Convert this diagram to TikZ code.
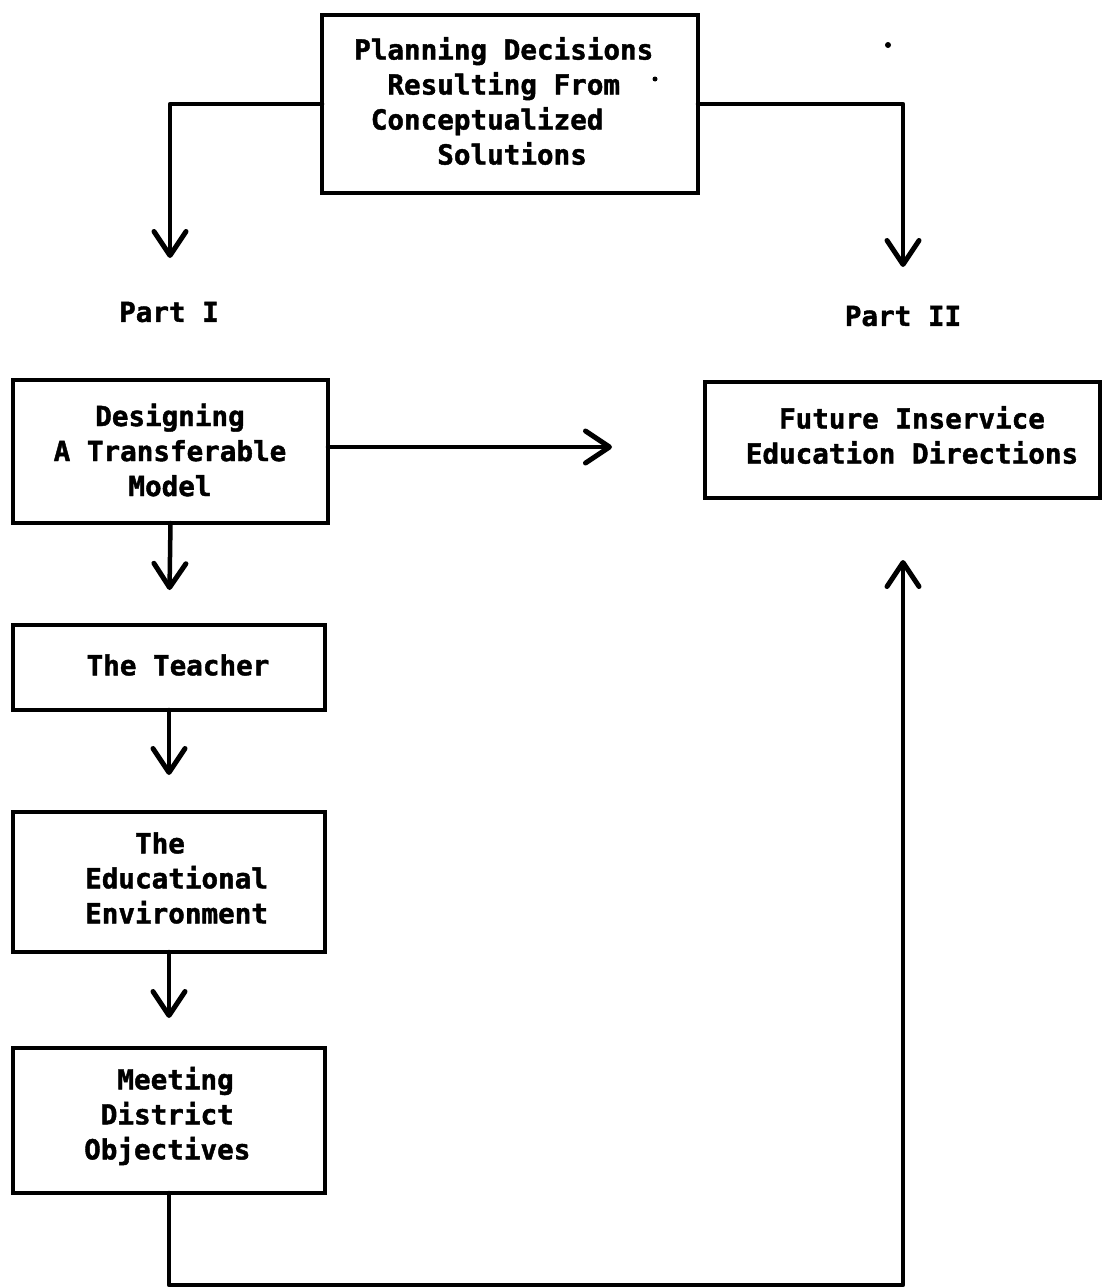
\documentclass[tikz,border=0pt]{standalone}
\usepackage{fontspec}
\newfontfamily\tw[BoldFeatures={FakeBold=1.5}]{DejaVu Sans Mono}
\usetikzlibrary{arrows.meta}
\begin{document}
\begin{tikzpicture}[x=1pt,y=-1pt,
  box/.style={draw, line width=4.5pt, inner sep=0pt, outer sep=0pt},
  txt/.style={inner sep=0pt, font=\tw\bfseries\fontsize{27.6}{35}\selectfont},
  conn/.style={line width=4.5pt, line cap=round, line join=round},
  arr/.style={conn, -{Straight Barb[length=24pt,width=32pt,line width=5pt,round]}}]
\useasboundingbox (0,0) rectangle (1103,1288);
\fill[white] (0,0) rectangle (1103,1288);
% boxes
\node[box, minimum width=376pt, minimum height=178pt] (top) at (510,104) {};
\node[box, minimum width=315pt, minimum height=143pt] (design) at (170.5,451.5) {};
\node[box, minimum width=395pt, minimum height=116pt] (future) at (902.5,440) {};
\node[box, minimum width=312pt, minimum height=85pt] (teacher) at (169,667.5) {};
\node[box, minimum width=312pt, minimum height=140pt] (env) at (169,882) {};
\node[box, minimum width=312pt, minimum height=145pt] (meet) at (169,1120.5) {};
% texts
\node[txt, anchor=west, align=left] (toptxt) at (354,101)
  {Planning Decisions\\\phantom{xx}Resulting From\\\phantom{x}Conceptualized\\\phantom{xxxxx}Solutions};
\node[txt, align=center] (designtxt) at (170,450) {Designing\\A Transferable\\Model};
\node[txt, align=center] (futuretxt) at (912,435) {Future Inservice\\Education Directions};
\node[txt] (teachertxt) at (178,665) {The Teacher};
\node[txt, anchor=west, align=left] (envtxt) at (85,878) {\phantom{xxx}The\\Educational\\Environment};
\node[txt, anchor=west, align=left] (meettxt) at (84,1116) {\phantom{xx}Meeting\\\phantom{x}District\\Objectives};
\node[txt] (part1) at (169,312) {Part I};
\node[txt] (part2) at (903,316) {Part II};
% connector end points
\coordinate (tipA) at (170,258);
\coordinate (tipB) at (903,267);
\coordinate (tipC) at (612,447);
\coordinate (bot) at (903,1285);
\coordinate (tipF) at (903,560);
% connectors
\draw[arr] (top.west) -| (tipA);
\draw[arr] (top.east) -| (tipB);
\draw[arr] ([yshift=4.5pt]design.east) -- (tipC);
\draw[arr, shorten >=35pt] (design.south) -- (teacher.north);
\draw[arr, shorten >=37pt] (teacher.south) -- (env.north);
\draw[arr, shorten >=30pt] (env.south) -- (meet.north);
\draw[arr] (meet.south) -- (meet.south |- bot) -- (bot) -- (tipF);
% specks
\fill (888,45) circle (3pt);
\fill (655,79) circle (2.5pt);
\end{tikzpicture}
\end{document}
